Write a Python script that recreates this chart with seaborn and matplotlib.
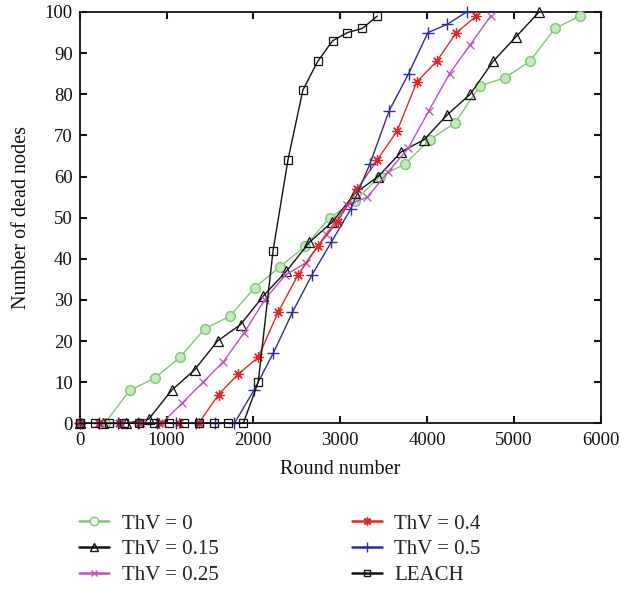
import matplotlib
matplotlib.use("Agg")
import matplotlib.pyplot as plt
from matplotlib.lines import Line2D
import seaborn as sns
import pandas as pd

# ---- data ----
x_thv0 = [0, 288, 576, 864, 1152, 1440, 1728, 2016, 2304, 2592, 2880, 3168, 3456, 3744, 4032, 4320, 4608, 4896, 5184, 5472, 5760]
y_thv0 = [0, 0, 8, 11, 16, 23, 26, 33, 38, 43, 50, 54, 60, 63, 69, 73, 82, 84, 88, 96, 99]

x_thv015 = [0, 265, 529, 794, 1058, 1323, 1587, 1852, 2116, 2381, 2645, 2910, 3174, 3439, 3703, 3968, 4232, 4497, 4761, 5026, 5290]
y_thv015 = [0, 0, 0, 1, 8, 13, 20, 24, 31, 37, 44, 49, 56, 60, 66, 69, 75, 80, 88, 94, 100]

x_thv025 = [0, 237, 473, 710, 946, 1183, 1420, 1656, 1893, 2129, 2366, 2603, 2839, 3076, 3312, 3549, 3786, 4022, 4259, 4496, 4732]
y_thv025 = [0, 0, 0, 0, 0, 5, 10, 15, 22, 30, 36, 39, 46, 53, 55, 61, 67, 76, 85, 92, 99]

x_thv04 = [0, 228, 457, 685, 913, 1142, 1370, 1599, 1827, 2055, 2284, 2512, 2740, 2969, 3197, 3425, 3654, 3882, 4110, 4339, 4567]
y_thv04 = [0, 0, 0, 0, 0, 0, 0, 7, 12, 16, 27, 36, 43, 49, 57, 64, 71, 83, 88, 95, 99]

x_thv05 = [0, 223, 446, 668, 891, 1114, 1337, 1559, 1782, 2005, 2228, 2450, 2673, 2896, 3119, 3341, 3564, 3787, 4010, 4232, 4455]
y_thv05 = [0, 0, 0, 0, 0, 0, 0, 0, 0, 8, 17, 27, 36, 44, 52, 63, 76, 85, 95, 97, 100]

x_leach = [0, 171, 343, 514, 685, 857, 1028, 1199, 1370, 1542, 1713, 1884, 2056, 2227, 2398, 2570, 2741, 2912, 3083, 3255, 3426]
y_leach = [0, 0, 0, 0, 0, 0, 0, 0, 0, 0, 0, 0, 10, 42, 64, 81, 88, 93, 95, 96, 99]

labels = ["ThV = 0", "ThV = 0.15", "ThV = 0.25", "ThV = 0.4", "ThV = 0.5", "LEACH"]
x_ticks = [0, 1000, 2000, 3000, 4000, 5000, 6000]
y_ticks = [0, 10, 20, 30, 40, 50, 60, 70, 80, 90, 100]

series = [
    (x_thv0, y_thv0, dict(color="#7cc96f", marker="o", ms=7, mfc="#c4e9bd", mec="#7cc96f", mew=1.0),
     dict(marker="o", mfc="white", mec="#7cc96f", ms=6)),
    (x_thv015, y_thv015, dict(color="#111111", marker="^", ms=7.5, mfc="none", mec="#111111", mew=0.9),
     dict(marker="^", mfc="none", mec="#111111", ms=6)),
    (x_thv025, y_thv025, dict(color="#c04fb8", marker="x", ms=6, mec="#c04fb8", mew=0.9),
     dict(marker="x", mec="#c04fb8", ms=5)),
    (x_thv04, y_thv04, dict(color="#e0282a", marker=(8, 2, 0), ms=7.5, mec="#e0282a", mew=0.9),
     dict(marker=(8, 2, 0), mec="#e0282a", ms=6)),
    (x_thv05, y_thv05, dict(color="#2b2f96", marker="+", ms=8.5, mec="#2b2f96", mew=1.0),
     dict(marker="+", mec="#2b2f96", ms=7)),
    (x_leach, y_leach, dict(color="#111111", marker="s", ms=5.5, mfc="none", mec="#111111", mew=0.9),
     dict(marker="s", mfc="none", mec="#111111", ms=5)),
]

sns.set_theme(style="white")
plt.rcParams["font.family"] = ["Liberation Serif", "DejaVu Serif"]

fig = plt.figure(figsize=(6.21, 5.90), dpi=100)
ax = fig.add_axes([79.7 / 621, 1 - 423.3 / 590, (600.7 - 79.7) / 621, (423.3 - 12) / 590])

handles = []
for (xs, ys, style, lstyle), lab in zip(series, labels):
    df = pd.DataFrame({"x": xs, "y": ys})
    color = style.pop("color")
    sns.lineplot(data=df, x="x", y="y", ax=ax, color=color, lw=1.0, estimator=None,
                 sort=False, clip_on=False, zorder=3, **style)
    handles.append(Line2D([0], [0], color=color, lw=1.8, mew=1.0, **lstyle))

ax.set_xlim(0, 6000)
ax.set_ylim(0, 100)
ax.set_xticks(x_ticks)
ax.set_yticks(y_ticks)
ax.set_xticklabels([str(v) for v in x_ticks])
ax.set_yticklabels([str(v) for v in y_ticks])
ax.tick_params(direction="in", length=5, width=1.5, labelsize=13.5, colors="#111111",
               top=True, right=True, bottom=True, left=True, pad=5)
ax.tick_params(axis="x", pad=6)
for sp in ax.spines.values():
    sp.set_visible(True)
    sp.set_color("#111111")
    sp.set_linewidth(1.3)
ax.grid(False)
ax.set_xlabel("Round number", fontsize=14.5, color="#111111", labelpad=8)
ax.set_ylabel("Number of dead nodes", fontsize=14.5, color="#111111", labelpad=10)

leg = fig.legend(handles=handles, labels=labels, ncol=2, frameon=False,
                 loc="upper left", bbox_to_anchor=(79 / 621, 1 - 514 / 590),
                 fontsize=15, handlelength=1.45, handletextpad=0.6, columnspacing=6.4,
                 labelspacing=0.3, borderpad=0, borderaxespad=0)
for t in leg.get_texts():
    t.set_color("#222222")

fig.savefig("out.png", dpi=100, facecolor="white")
